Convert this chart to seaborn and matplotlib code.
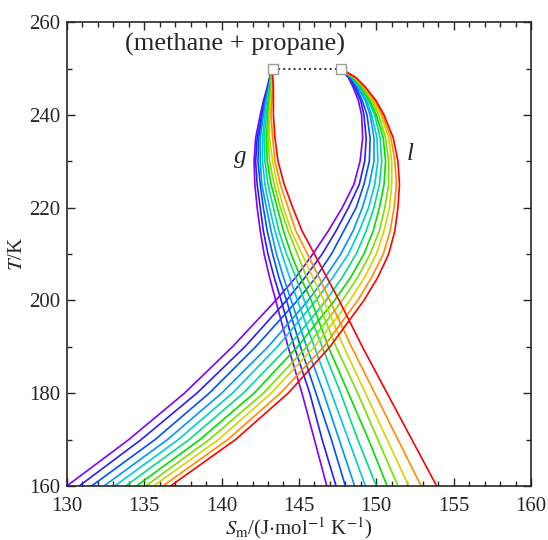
import numpy as np
import pandas as pd
import seaborn as sns
import matplotlib.pyplot as plt
from matplotlib.ticker import MultipleLocator

# temperatures (K) at which the curves were read
T = [160, 170, 180, 190, 200, 205, 210, 215, 220, 225, 230, 235, 240, 243, 246, 248, 250]

# liquid branch entropies, one list per curve (violet -> red)
s_liq = [
    [130.0, 134.0, 137.6, 140.7, 143.5, 144.8, 145.9, 146.9, 147.8, 148.55, 148.95, 149.12, 149.05, 148.85, 148.5, 148.2, 147.7],
    [130.8, 134.8, 138.4, 141.5, 144.2, 145.4, 146.5, 147.4, 148.2, 148.9, 149.25, 149.35, 149.2, 149.0, 148.6, 148.3, 147.7],
    [131.6, 135.7, 139.2, 142.2, 144.9, 146.1, 147.1, 147.9, 148.7, 149.2, 149.55, 149.6, 149.4, 149.1, 148.7, 148.3, 147.7],
    [132.4, 136.5, 140.0, 143.0, 145.6, 146.7, 147.7, 148.5, 149.1, 149.55, 149.85, 149.85, 149.6, 149.3, 148.8, 148.4, 147.7],
    [133.1, 137.2, 140.7, 143.6, 146.1, 147.2, 148.2, 148.9, 149.5, 149.9, 150.1, 150.05, 149.7, 149.4, 148.9, 148.4, 147.7],
    [133.8, 137.9, 141.4, 144.3, 146.75, 147.8, 148.7, 149.35, 149.85, 150.2, 150.35, 150.25, 149.9, 149.5, 149.0, 148.5, 147.7],
    [134.5, 138.6, 142.1, 144.9, 147.3, 148.35, 149.2, 149.8, 150.2, 150.5, 150.6, 150.45, 150.0, 149.6, 149.0, 148.5, 147.7],
    [135.1, 139.2, 142.7, 145.5, 147.8, 148.8, 149.6, 150.2, 150.55, 150.8, 150.8, 150.6, 150.15, 149.7, 149.1, 148.6, 147.7],
    [135.6, 139.8, 143.2, 146.0, 148.3, 149.25, 150.0, 150.5, 150.85, 151.0, 151.0, 150.8, 150.3, 149.8, 149.2, 148.6, 147.7],
    [136.2, 140.4, 143.8, 146.6, 148.8, 149.7, 150.45, 150.9, 151.15, 151.3, 151.2, 150.95, 150.4, 149.9, 149.2, 148.7, 147.7],
    [136.7, 140.9, 144.3, 147.0, 149.2, 150.1, 150.8, 151.2, 151.4, 151.5, 151.4, 151.1, 150.5, 150.0, 149.3, 148.7, 147.7],
]

# gas branch entropies
s_gas = [
    [146.8, 146.0, 145.2, 144.3, 143.5, 143.1, 142.75, 142.5, 142.3, 142.15, 142.1, 142.2, 142.5, 142.7, 142.95, 143.1, 143.3],
    [147.4, 146.5, 145.7, 144.7, 143.85, 143.4, 143.0, 142.7, 142.5, 142.3, 142.2, 142.3, 142.6, 142.75, 143.0, 143.1, 143.3],
    [148.0, 147.1, 146.1, 145.1, 144.2, 143.7, 143.3, 142.95, 142.7, 142.5, 142.35, 142.4, 142.65, 142.8, 143.0, 143.15, 143.3],
    [148.6, 147.6, 146.6, 145.5, 144.5, 144.0, 143.55, 143.2, 142.9, 142.6, 142.5, 142.5, 142.7, 142.85, 143.05, 143.15, 143.3],
    [149.3, 148.2, 147.1, 146.0, 144.9, 144.4, 143.9, 143.45, 143.1, 142.8, 142.65, 142.65, 142.8, 142.9, 143.1, 143.15, 143.3],
    [150.0, 148.8, 147.7, 146.5, 145.35, 144.8, 144.2, 143.7, 143.35, 143.0, 142.8, 142.75, 142.9, 143.0, 143.1, 143.2, 143.3],
    [150.7, 149.5, 148.2, 146.9, 145.8, 145.1, 144.5, 144.0, 143.6, 143.2, 142.95, 142.9, 143.0, 143.05, 143.15, 143.2, 143.3],
    [151.4, 150.1, 148.8, 147.4, 146.2, 145.5, 144.9, 144.3, 143.8, 143.4, 143.1, 143.0, 143.05, 143.1, 143.2, 143.2, 143.3],
    [152.1, 150.7, 149.3, 147.9, 146.6, 145.9, 145.2, 144.5, 144.0, 143.6, 143.3, 143.1, 143.1, 143.2, 143.25, 143.25, 143.3],
    [152.9, 151.4, 149.9, 148.4, 147.0, 146.3, 145.55, 144.8, 144.3, 143.8, 143.45, 143.3, 143.2, 143.25, 143.3, 143.3, 143.3],
    [153.9, 152.3, 150.7, 149.1, 147.6, 146.8, 146.0, 145.2, 144.6, 144.05, 143.65, 143.45, 143.35, 143.35, 143.35, 143.3, 143.3],
]

colors = ['#7f00ff', '#2a1cff', '#0050ff', '#0095ff', '#00c8e0', '#00dc8c',
          '#00e000', '#78e000', '#d4d400', '#ff8c00', '#ff0000']

# end points joined by dotted line
end_S = [143.3, 147.7]
end_T = [250, 250]

sns.set_style("ticks")
plt.rcParams['font.family'] = ['Liberation Serif', 'DejaVu Serif']
plt.rcParams['mathtext.fontset'] = 'stix'

fig = plt.figure(figsize=(5.48, 5.40), dpi=100)
ax = fig.add_axes([0.122, 0.100, 0.847, 0.859])

for i, c in enumerate(colors):
    sns.lineplot(x=s_liq[i], y=T, sort=False, estimator=None, color=c, lw=1.2, ax=ax)
    sns.lineplot(x=s_gas[i], y=T, sort=False, estimator=None, color=c, lw=1.2, ax=ax)

ax.plot(end_S, end_T, ls=':', color='#333333', lw=1.4, zorder=4)
ax.plot(end_S, end_T, ls='none', marker='s', ms=7, mfc='white', mec='#999999', mew=1.0, zorder=5)

ax.text(140.9, 255.1, '(methane + propane)', fontsize=19, ha='center', va='center')
ax.text(141.2, 231.0, 'g', fontsize=18, style='italic', ha='center', va='center')
ax.text(152.2, 231.5, 'l', fontsize=18, style='italic', ha='center', va='center')

ax.set_xlim(130, 160)
ax.set_ylim(160, 260)
ax.xaxis.set_major_locator(MultipleLocator(5))
ax.xaxis.set_minor_locator(MultipleLocator(1))
ax.yaxis.set_major_locator(MultipleLocator(20))
ax.yaxis.set_minor_locator(MultipleLocator(10))
ax.tick_params(which='both', direction='in', top=True, right=True, labelsize=15, width=1.0)
ax.tick_params(axis='x', which='major', pad=8)
ax.tick_params(axis='y', which='major', pad=5)
ax.tick_params(which='major', length=6)
ax.tick_params(which='minor', length=3.5)
for sp in ax.spines.values():
    sp.set_linewidth(1.2)

ax.set_xlabel(r'$S_\mathrm{m}$/(J$\cdot$mol$^{-1}$ K$^{-1}$)', fontsize=15)
ax.set_ylabel(r'$T$/K', fontsize=15)
ax.xaxis.set_label_coords(0.5, -0.064)
ax.yaxis.set_label_coords(-0.086, 0.5)

fig.savefig('out.png', dpi=100)
